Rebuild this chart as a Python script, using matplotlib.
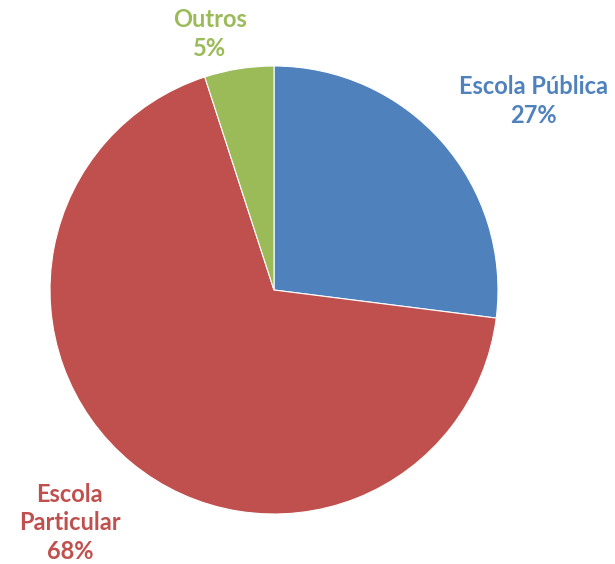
import matplotlib
matplotlib.use('Agg')
import matplotlib.pyplot as plt

labels = ['Escola Pública', 'Escola Particular', 'Outros']
label_lines = ['Escola Pública', 'Escola\nParticular', 'Outros']
values = [27, 68, 5]
colors = ['#4F81BD', '#C0504D', '#9BBB59']
text_colors = ['#4F81BD', '#C0504D', '#9BBB59']

# label positions in pie units (radius = 1)
label_pos = [(1.158, 0.844), (-0.911, -1.04), (-0.286, 1.143)]

fig = plt.figure(figsize=(6.15, 5.64), dpi=100)
ax = fig.add_axes([50 / 615, 50 / 564, 448 / 615, 448 / 564])

ax.pie(values, colors=colors, startangle=90, counterclock=False,
       wedgeprops={'linewidth': 0.8, 'edgecolor': 'white'}, radius=1)
ax.set_xlim(-1, 1)
ax.set_ylim(-1, 1)
ax.set_aspect('equal')

for lab, v, c, (x, y) in zip(label_lines, values, text_colors, label_pos):
    ax.text(x, y, f"{lab}\n{v}%", ha='center', va='center', color=c,
            fontsize=17, fontweight='bold', family='Lato',
            linespacing=1.3, clip_on=False)

fig.savefig('out.png', dpi=100)
